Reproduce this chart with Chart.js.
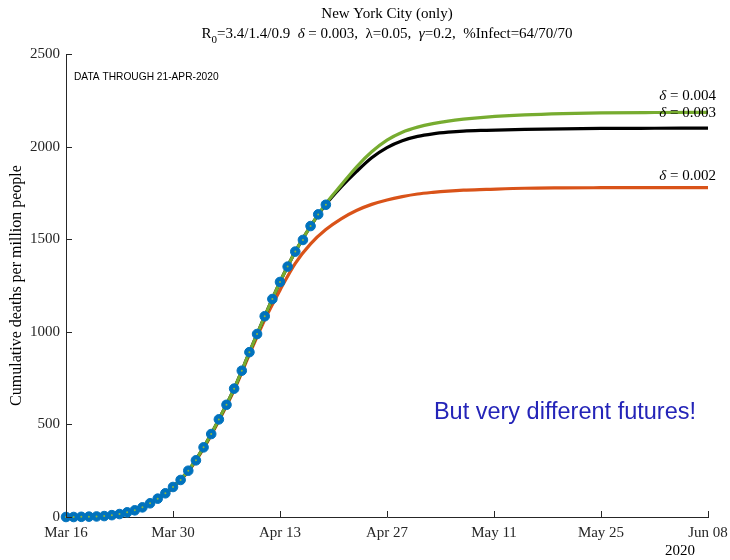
<!DOCTYPE html>
<html>
<head>
<meta charset="utf-8">
<script src="https://cdn.jsdelivr.net/npm/chart.js@4"></script>
<style>
  html, body { margin: 0; padding: 0; background: #fff; }
  #wrap { width: 730px; height: 560px; }
</style>
</head>
<body>
<div id="wrap"><canvas id="nycChart" width="730" height="560"></canvas></div>
<script>
// tick labels (every 14 days from Mar 16)
const dateTicks = ['Mar 16', 'Mar 30', 'Apr 13', 'Apr 27', 'May 11', 'May 25', 'Jun 08'];

// observed deaths per million (days since Mar 16)
const obsDays = [0, 1, 2, 3, 4, 5, 6, 7, 8, 9, 10, 11, 12, 13, 14, 15, 16, 17, 18, 19, 20,
  21, 22, 23, 24, 25, 26, 27, 28, 29, 30, 31, 32, 33, 34];
const obsDeaths = [0, 0, 1, 2, 3, 5, 10, 16, 25, 36, 52, 74, 99, 128, 162, 200, 250, 306, 376, 448, 527,
  606, 693, 790, 890, 988, 1084, 1177, 1269, 1352, 1433, 1496, 1571, 1634, 1686];

// model runs
const fitDays = [0, 4, 8, 10, 12, 14, 16, 18, 20, 22, 24, 26, 28, 30, 32, 34,
  36, 38, 40, 42, 44, 46, 48, 50, 52, 55, 60, 65, 70, 77, 84];
const fitDelta004 = [0, 3, 25, 52, 99, 162, 250, 376, 527, 693, 890, 1084, 1269, 1433, 1571, 1692,
  1792, 1890, 1972, 2035, 2078, 2105, 2124, 2138, 2148, 2159, 2171, 2178, 2182, 2184, 2185];
const fitDelta003 = [0, 3, 25, 52, 99, 162, 250, 376, 527, 693, 890, 1084, 1269, 1433, 1571, 1688,
  1782, 1865, 1940, 1995, 2032, 2055, 2069, 2078, 2084, 2088, 2093, 2096, 2098, 2099, 2100];
const fitDelta002 = [0, 3, 24, 50, 96, 158, 245, 370, 520, 685, 878, 1065, 1225, 1370, 1475, 1552,
  1610, 1655, 1688, 1712, 1730, 1744, 1753, 1760, 1765, 1769, 1775, 1777, 1778, 1779, 1779];

const curveLabels = ['\u03b4 = 0.004', '\u03b4 = 0.003', '\u03b4 = 0.002'];

const SERIF = '"Liberation Serif", "DejaVu Serif", serif';
const SANS = '"Liberation Sans", Arial, sans-serif';

function toXY(xs, ys) {
  return xs.map((x, i) => ({ x: x, y: ys[i] }));
}

// draws a row of text pieces centred at cx
function drawPieces(ctx, pieces, cx, y) {
  let total = 0;
  pieces.forEach(p => { ctx.font = p.font; total += ctx.measureText(p.text).width; });
  let x = cx - total / 2;
  ctx.textAlign = 'left';
  ctx.textBaseline = 'alphabetic';
  pieces.forEach(p => {
    ctx.font = p.font;
    ctx.fillText(p.text, x, y + (p.dy || 0));
    x += ctx.measureText(p.text).width;
  });
}

const extrasPlugin = {
  id: 'extras',
  afterDraw(chart) {
    const ctx = chart.ctx;
    const xs = chart.scales.x;
    const ys = chart.scales.y;
    const area = chart.chartArea;
    const cx = (area.left + area.right) / 2;
    ctx.save();

    // inward ticks
    ctx.strokeStyle = '#262626';
    ctx.lineWidth = 1;
    ctx.beginPath();
    xs.ticks.forEach(t => {
      const px = Math.round(xs.getPixelForValue(t.value)) + 0.5;
      ctx.moveTo(px, area.bottom);
      ctx.lineTo(px, area.bottom - 6);
    });
    ys.ticks.forEach(t => {
      const py = Math.round(ys.getPixelForValue(t.value)) + 0.5;
      ctx.moveTo(area.left, py);
      ctx.lineTo(area.left + 6, py);
    });
    ctx.stroke();

    // titles
    ctx.fillStyle = '#000';
    drawPieces(ctx, [{ text: 'New York City (only)', font: '15px ' + SERIF }], cx, 18);
    const f = '15px ' + SERIF, fi = 'italic 15px ' + SERIF;
    drawPieces(ctx, [
      { text: 'R', font: f },
      { text: '0', font: '11px ' + SERIF, dy: 5 },
      { text: '=3.4/1.4/0.9  ', font: f },
      { text: '\u03b4', font: fi },
      { text: ' = 0.003,  \u03bb=0.05,  ', font: f },
      { text: '\u03b3', font: fi },
      { text: '=0.2,  %Infect=64/70/70', font: f }
    ], cx, 38);

    // y axis title
    ctx.save();
    ctx.translate(17, (area.top + area.bottom) / 2);
    ctx.rotate(-Math.PI / 2);
    ctx.font = '16px ' + SERIF;
    ctx.textAlign = 'center';
    ctx.textBaseline = 'middle';
    ctx.fillText('Cumulative deaths per million people', 0, 0);
    ctx.restore();

    // year under last tick
    ctx.font = '15px ' + SERIF;
    ctx.textAlign = 'center';
    ctx.textBaseline = 'middle';
    ctx.fillText('2020', xs.getPixelForValue(84) - 28, 551);

    // data note
    ctx.font = '10.2px ' + SANS;
    ctx.textAlign = 'left';
    ctx.fillText('DATA THROUGH 21-APR-2020', area.left + 8, 77);

    // curve labels at the right end
    const ends = [fitDelta004, fitDelta003, fitDelta002];
    const lift = [16, 15, 11];
    ctx.textAlign = 'right';
    ctx.textBaseline = 'middle';
    ends.forEach((arr, i) => {
      const py = ys.getPixelForValue(arr[arr.length - 1]) - lift[i];
      const rx = area.right + 8;
      const rest = curveLabels[i].slice(1);
      ctx.font = '15px ' + SERIF;
      const wRest = ctx.measureText(rest).width;
      ctx.fillText(rest, rx, py);
      ctx.font = 'italic 15px ' + SERIF;
      ctx.fillText(curveLabels[i][0], rx - wRest, py);
    });

    // message
    ctx.fillStyle = '#2424b8';
    ctx.font = '23.5px ' + SANS;
    ctx.textAlign = 'right';
    ctx.fillText('But very different futures!', area.right - 12, 413);

    ctx.restore();
  }
};

const ctx = document.getElementById('nycChart').getContext('2d');
const nycChart = new Chart(ctx, {
  type: 'line',
  data: {
    datasets: [
      {
        label: 'centre',
        data: toXY(obsDays, obsDeaths),
        showLine: false,
        clip: false,
        pointRadius: 1,
        pointBackgroundColor: '#8fb83a',
        pointBorderWidth: 0,
        order: 0
      },
      {
        label: 'data',
        data: toXY(obsDays, obsDeaths),
        showLine: false,
        clip: false,
        pointRadius: 4.8,
        pointBackgroundColor: '#0072BD',
        pointBorderColor: '#0072BD',
        pointBorderWidth: 1,
        order: 1
      },
      {
        label: curveLabels[0],
        data: toXY(fitDays, fitDelta004),
        borderColor: '#77AC30',
        borderWidth: 3.2,
        pointRadius: 0,
        cubicInterpolationMode: 'monotone',
        order: 2
      },
      {
        label: curveLabels[1],
        data: toXY(fitDays, fitDelta003),
        borderColor: '#000000',
        borderWidth: 3.2,
        pointRadius: 0,
        cubicInterpolationMode: 'monotone',
        order: 3
      },
      {
        label: curveLabels[2],
        data: toXY(fitDays, fitDelta002),
        borderColor: '#D95319',
        borderWidth: 3.2,
        pointRadius: 0,
        cubicInterpolationMode: 'monotone',
        order: 4
      }
    ]
  },
  options: {
    responsive: false,
    animation: false,
    layout: { padding: { top: 54, right: 22, left: 0, bottom: 0 } },
    plugins: {
      legend: { display: false },
      tooltip: { enabled: false }
    },
    scales: {
      x: {
        type: 'linear',
        min: 0,
        max: 84,
        afterFit: s => { s.height = 43; s.paddingLeft = 0; s.paddingRight = 0; },
        grid: { drawOnChartArea: false, drawTicks: false },
        border: { display: true, color: '#262626', width: 1 },
        ticks: {
          stepSize: 14,
          autoSkip: false,
          maxRotation: 0,
          padding: 7,
          color: '#262626',
          font: { family: SERIF, size: 15 },
          callback: v => dateTicks[v / 14]
        }
      },
      y: {
        min: 0,
        max: 2500,
        afterFit: s => { s.width = 66; s.paddingTop = 0; s.paddingBottom = 0; },
        grid: { drawOnChartArea: false, drawTicks: false },
        border: { display: true, color: '#262626', width: 1 },
        ticks: {
          stepSize: 500,
          padding: 6,
          color: '#262626',
          font: { family: SERIF, size: 15 },
          callback: v => String(v)
        }
      }
    }
  },
  plugins: [extrasPlugin]
});
</script>
</body>
</html>
